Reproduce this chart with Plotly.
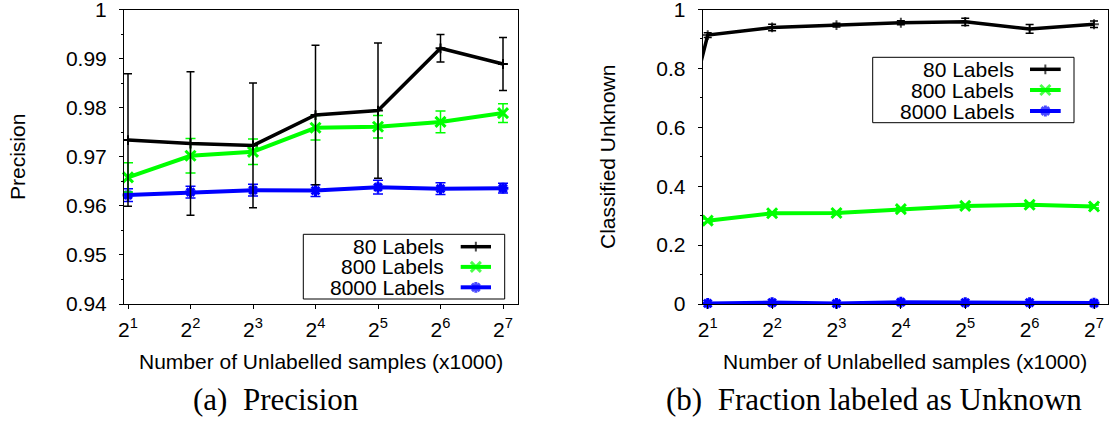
import math
import plotly.graph_objects as go

# ---------------- data ----------------
samples = [2, 4, 8, 16, 32, 64, 128]
tick_labels = ["2<sup>1</sup>", "2<sup>2</sup>", "2<sup>3</sup>", "2<sup>4</sup>",
               "2<sup>5</sup>", "2<sup>6</sup>", "2<sup>7</sup>"]
series_names = ["80 Labels", "800 Labels", "8000 Labels"]

# (a) Precision
prec_80 = [0.9734, 0.9727, 0.9723, 0.9785, 0.9794, 0.9921, 0.9889]
prec_80_err = [0.0135, 0.0146, 0.0127, 0.0142, 0.0138, 0.0028, 0.0054]
prec_800 = [0.9658, 0.9702, 0.9710, 0.9759, 0.9761, 0.9771, 0.9789]
prec_800_err = [0.0030, 0.0035, 0.0026, 0.0025, 0.0023, 0.0022, 0.0019]
prec_8000 = [0.9622, 0.9628, 0.9632, 0.9631, 0.9638, 0.9635, 0.9636]
prec_8000_err = [0.0013, 0.0012, 0.0012, 0.0012, 0.0014, 0.0012, 0.0010]

# (b) Fraction classified unknown (80 Labels has an extra point at 2^0, outside the range)
unk_80_x = [1, 2, 4, 8, 16, 32, 64, 128]
unk_80 = [0.04, 0.913, 0.939, 0.947, 0.955, 0.958, 0.934, 0.950]
unk_80_err = [0.0, 0.008, 0.011, 0.006, 0.007, 0.012, 0.015, 0.011]
unk_800 = [0.283, 0.308, 0.309, 0.322, 0.333, 0.337, 0.331]
unk_800_err = [0.006, 0.005, 0.005, 0.005, 0.005, 0.006, 0.005]
unk_8000 = [0.002, 0.005, 0.002, 0.006, 0.005, 0.005, 0.003]
unk_8000_err = [0.002, 0.002, 0.002, 0.002, 0.002, 0.002, 0.002]

prec_ticks = [0.94, 0.95, 0.96, 0.97, 0.98, 0.99, 1.0]
prec_tick_text = ["0.94", "0.95", "0.96", "0.97", "0.98", "0.99", "1"]
unk_ticks = [0, 0.2, 0.4, 0.6, 0.8, 1.0]
unk_tick_text = ["0", "0.2", "0.4", "0.6", "0.8", "1"]

# ---------------- styles ----------------
W, H = 1109, 423
FONT = "Liberation Sans, Arial, Helvetica, sans-serif"
SERIF = "Liberation Serif, Times New Roman, serif"
FS = 21
colors = ["#000000", "#00ff00", "#0000ff"]
line_w = [3.5, 4, 4]
symbols = ["cross-thin", "x-thin", "asterisk"]
msize = [7, 10, 9]
mlw = [2, 3, 3]
cap_w = [4, 5, 5]

fig = go.Figure()


def add_series(x, y, err, i, xa, ya, sizes=None):
    fig.add_trace(go.Scatter(
        x=x, y=y, mode="lines+markers", name=series_names[i],
        xaxis=xa, yaxis=ya, showlegend=False, cliponaxis=False,
        line=dict(color=colors[i], width=line_w[i]),
        marker=dict(symbol=symbols[i], size=sizes if sizes else msize[i],
                    color=colors[i], line=dict(color=colors[i], width=mlw[i])),
        error_y=dict(type="data", array=err, visible=True, color=colors[i],
                     thickness=1.5, width=cap_w[i]),
    ))


add_series(samples, prec_8000, prec_8000_err, 2, "x", "y")
add_series(samples, prec_800, prec_800_err, 1, "x", "y")
add_series(samples, prec_80, prec_80_err, 0, "x", "y")

add_series(samples, unk_8000, unk_8000_err, 2, "x2", "y2")
add_series(samples, unk_800, unk_800_err, 1, "x2", "y2")
add_series(unk_80_x, unk_80, unk_80_err, 0, "x2", "y2",
           sizes=[0] + [msize[0]] * (len(unk_80_x) - 1))

# ---------------- axes ----------------
L2 = math.log10(2)
common_axis = dict(showline=True, linecolor="black", linewidth=1, mirror=True,
                   ticks="outside", ticklen=4, tickwidth=1, tickcolor="black",
                   showgrid=False, zeroline=False, ticklabeloverflow="allow",
                   automargin=False,
                   tickfont=dict(family=FONT, size=FS, color="black"))

fig.update_layout(
    xaxis=dict(type="log", domain=[124 / W, 517.5 / W], anchor="y",
               range=[0.936 * L2, 7.232 * L2], ticklabelstandoff=3,
               tickvals=samples, ticktext=tick_labels, **common_axis),
    yaxis=dict(domain=[1 - 304 / H, 1 - 9.5 / H], anchor="x", range=[0.94, 1.0],
               tickvals=prec_ticks, ticktext=prec_tick_text, ticklabelstandoff=8,
               minor=dict(dtick=0.005, ticks="outside", ticklen=2, tickcolor="black"),
               **common_axis),
    xaxis2=dict(type="log", domain=[702.7 / W, 1108 / W], anchor="y2",
                range=[0.922 * L2, 7.2175 * L2], ticklabelstandoff=3,
                tickvals=samples, ticktext=tick_labels, **common_axis),
    yaxis2=dict(domain=[1 - 304 / H, 1 - 9.5 / H], anchor="x2", range=[0, 1.0],
                tickvals=unk_ticks, ticktext=unk_tick_text, ticklabelstandoff=8,
                minor=dict(dtick=0.1, ticks="outside", ticklen=2, tickcolor="black"),
                **common_axis),
    # overlay in pixel units for legends / captions
    xaxis3=dict(domain=[0, 1], range=[0, W], visible=False, anchor="y3", automargin=False),
    yaxis3=dict(domain=[0, 1], range=[H, 0], visible=False, anchor="x3", automargin=False),
)

# ---------------- manual gnuplot-style legends ----------------
legend_boxes = [
    dict(box=(303.3, 234.3, 504.7, 299.0), text_r=445.7, line=(460.7, 491.0),
         rows=[246.7, 266.9, 287.3]),
    dict(box=(872.7, 57.3, 1074.0, 122.7), text_r=1015.7, line=(1030.0, 1060.7),
         rows=[69.3, 90.0, 111.0]),
]
shapes = []
annotations = []
for lb in legend_boxes:
    x0, y0, x1, y1 = lb["box"]
    shapes.append(dict(type="rect", xref="x3", yref="y3", x0=x0, y0=y0, x1=x1, y1=y1,
                       line=dict(color="black", width=1), fillcolor="white", layer="below"))
    for i, ry in enumerate(lb["rows"]):
        lx0, lx1 = lb["line"]
        fig.add_trace(go.Scatter(
            x=[lx0, (lx0 + lx1) / 2, lx1], y=[ry, ry, ry], xaxis="x3", yaxis="y3",
            mode="lines+markers", showlegend=False, hoverinfo="skip",
            line=dict(color=colors[i], width=line_w[i]),
            marker=dict(symbol=symbols[i], size=[0, msize[i], 0], color=colors[i],
                        line=dict(color=colors[i], width=mlw[i]))))
        annotations.append(dict(xref="x3", yref="y3", x=lb["text_r"], y=ry,
                                xanchor="right", yanchor="middle", showarrow=False,
                                text=series_names[i],
                                font=dict(family=FONT, size=FS, color="black")))

annotations += [
    dict(xref="x3", yref="y3", x=17, y=157, text="Precision", textangle=-90,
         showarrow=False, font=dict(family=FONT, size=FS, color="black")),
    dict(xref="x3", yref="y3", x=607, y=157, text="Classified Unknown", textangle=-90,
         showarrow=False, font=dict(family=FONT, size=FS, color="black")),
    dict(xref="x3", yref="y3", x=321, y=361, text="Number of Unlabelled samples (x1000)",
         showarrow=False, font=dict(family=FONT, size=FS, color="black")),
    dict(xref="x3", yref="y3", x=905, y=361, text="Number of Unlabelled samples (x1000)",
         showarrow=False, font=dict(family=FONT, size=FS, color="black")),
    dict(xref="x3", yref="y3", x=276, y=399, text="(a)  Precision",
         showarrow=False, font=dict(family=SERIF, size=31, color="black")),
    dict(xref="x3", yref="y3", x=874, y=399, text="(b)  Fraction labeled as Unknown",
         showarrow=False, font=dict(family=SERIF, size=31, color="black")),
]

fig.update_layout(
    width=W, height=H, margin=dict(l=0, r=0, t=0, b=0, autoexpand=False),
    paper_bgcolor="white", plot_bgcolor="rgba(0,0,0,0)",
    shapes=shapes, annotations=annotations, showlegend=False,
    font=dict(family=FONT, size=FS, color="black"),
)

fig.write_html("out.html", config={"displayModeBar": False},
               post_script="document.body.style.margin='0';document.body.style.overflow='hidden';")
